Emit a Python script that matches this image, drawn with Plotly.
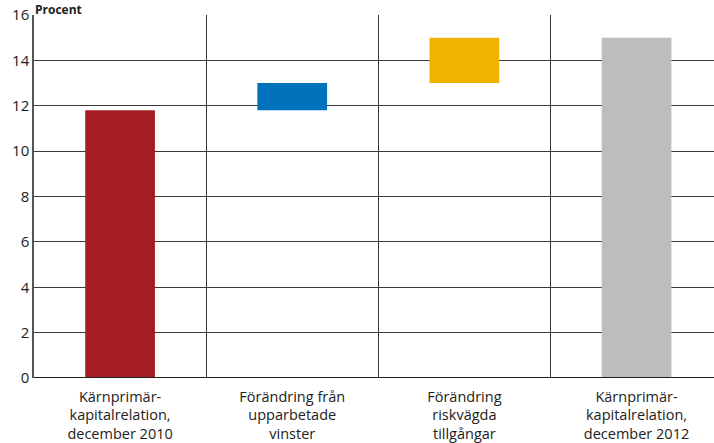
import plotly.graph_objects as go

categories = ["Kärnprimär-<br>kapitalrelation,<br>december 2010",
              "Förändring från<br>upparbetade<br>vinster",
              "Förändring<br>riskvägda<br>tillgångar",
              "Kärnprimär-<br>kapitalrelation,<br>december 2012"]
bar_base = [0, 11.8, 13.0, 0]
bar_top = [11.8, 13.0, 15.0, 15.0]
colors = ["#A61C24", "#0072BB", "#F0B400", "#BDBDBF"]
yticks = [0, 2, 4, 6, 8, 10, 12, 14, 16]

x = list(range(len(categories)))
heights = [t - b for t, b in zip(bar_top, bar_base)]

fig = go.Figure(go.Bar(x=x, y=heights, base=bar_base, marker_color=colors,
                       marker_line_width=0, width=0.405))

font = "Open Sans, Noto Sans, sans-serif"
fig.update_layout(
    width=714, height=443,
    margin=dict(l=34, r=0, t=15, b=65),
    plot_bgcolor="white", paper_bgcolor="white",
    showlegend=False,
    font=dict(family=font, size=14, color="#222"),
    xaxis=dict(range=[-0.5, 3.45], tickvals=x, ticktext=categories,
               showgrid=False, zeroline=False, showline=False,
               ticks="", tickfont=dict(size=14.5), ticklabelstandoff=8,
               minor=dict(tick0=0.5, dtick=1, showgrid=True,
                          gridcolor="#3a3a3a", gridwidth=1.3, ticks="")),
    yaxis=dict(range=[0, 16], tickvals=yticks, showgrid=True,
               gridcolor="#3a3a3a", gridwidth=1.3, zeroline=False,
               showline=True, linecolor="#555", linewidth=1.5,
               ticks="outside", ticklen=0, tickfont=dict(size=15)),
)
fig.add_hline(y=0, line_color="#222", line_width=2)
fig.add_annotation(text="<b>Procent</b>", xref="paper", yref="paper",
                   x=0, y=1, xshift=0, yshift=15, xanchor="left",
                   yanchor="top", showarrow=False, borderpad=0,
                   font=dict(size=12, color="#222"))
fig.write_html("out.html")
